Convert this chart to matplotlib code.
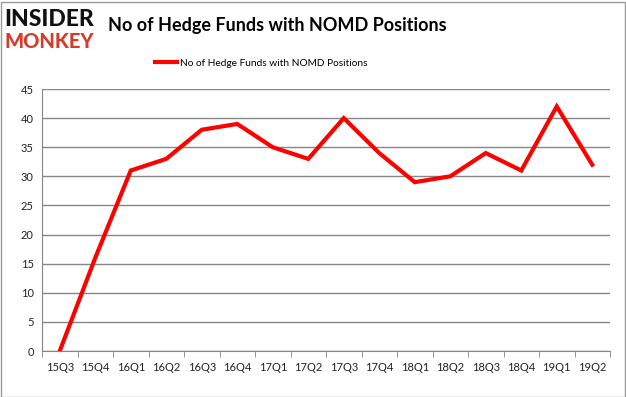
import matplotlib.pyplot as plt

quarters = ["15Q3", "15Q4", "16Q1", "16Q2", "16Q3", "16Q4", "17Q1", "17Q2",
            "17Q3", "17Q4", "18Q1", "18Q2", "18Q3", "18Q4", "19Q1", "19Q2"]
funds = [0, 16, 31, 33, 38, 39, 35, 33, 40, 34, 29, 30, 34, 31, 42, 32]
yticks = [0, 5, 10, 15, 20, 25, 30, 35, 40, 45]

plt.rcParams["font.family"] = ["Lato", "DejaVu Sans"]

fig = plt.figure(figsize=(6.26, 3.97), dpi=100)
ax = fig.add_axes([42 / 626, 1 - 351 / 397, (610 - 42) / 626, (351 - 89) / 397])

x = list(range(len(quarters)))
ax.plot(x, funds, color="#ff0000", lw=3, solid_joinstyle="miter",
        label="No of Hedge Funds with NOMD Positions")

ax.set_xlim(-0.5, len(quarters) - 0.5)
ax.set_ylim(0, 45)
ax.set_yticks(yticks)
ax.set_xticks(x)
ax.set_xticklabels(quarters)
ax.set_xticks([i - 0.5 for i in range(len(quarters) + 1)], minor=True)
ax.tick_params(axis="x", which="major", length=0, pad=8, labelsize=8, colors="#222222")
ax.tick_params(axis="x", which="minor", length=4, color="#868686")
ax.tick_params(axis="y", length=0, pad=6, labelsize=8, colors="#222222")
ax.grid(axis="y", color="#868686", lw=1)
ax.set_axisbelow(True)
for s in ["top", "right"]:
    ax.spines[s].set_visible(False)
ax.spines["left"].set_color("#868686")
ax.spines["bottom"].set_color("#868686")

fig.legend(loc="center", bbox_to_anchor=(261 / 626, 1 - 63 / 397), frameon=False,
           fontsize=7.3, handlelength=2.2, handletextpad=0.3)

fig.text(108 / 626, 1 - 26 / 397, "No of Hedge Funds with NOMD Positions",
         fontsize=13, fontweight="bold", va="center", ha="left", color="#000000")
fig.text(4 / 626, 1 - 19 / 397, "INSIDER", fontsize=16.5, fontweight="black",
         va="center", ha="left", color="#111111")
fig.text(4 / 626, 1 - 41 / 397, "MONKEY", fontsize=14.5, fontweight="black",
         va="center", ha="left", color="#d63c2b")

fig.patches.append(plt.Rectangle((0.5 / 626, 0.5 / 397), 624 / 626, 395 / 397,
                                 transform=fig.transFigure, fill=False,
                                 edgecolor="#999999", lw=1))

fig.savefig("out.png", dpi=100)
